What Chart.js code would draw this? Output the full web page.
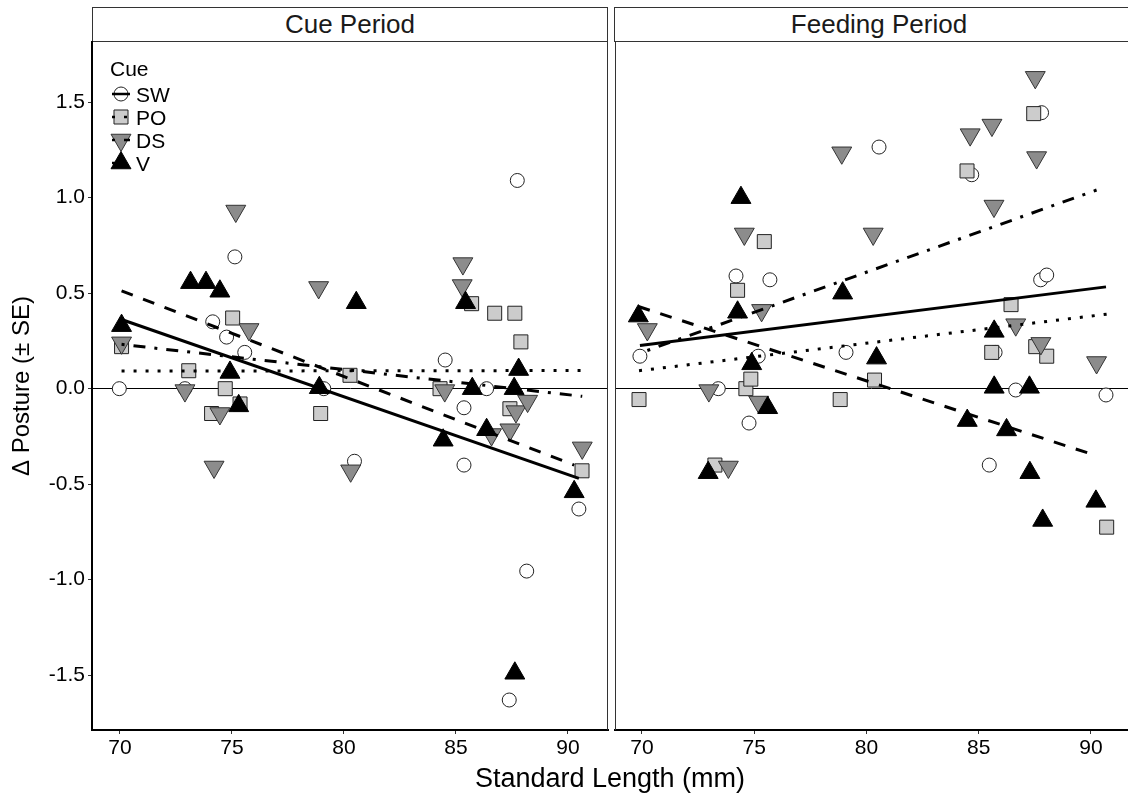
<!DOCTYPE html>
<html>
<head>
<meta charset="utf-8">
<script src="https://cdn.jsdelivr.net/npm/chart.js@4.4.1/dist/chart.umd.min.js"></script>
<style>
  body { margin: 0; background: #fff; width: 1128px; height: 796px; overflow: hidden; position: relative;
         font-family: "Liberation Sans", Arial, sans-serif; }
  .strip { position: absolute; top: 7px; height: 35px; box-sizing: border-box; border: 1px solid #333;
           background: #fff; display: flex; align-items: center; justify-content: center;
           font-size: 26px; color: #1a1a1a; }
  .panel { position: absolute; top: 0; }
  #xtitle { position: absolute; left: 410px; width: 400px; top: 765px; line-height: 27px;
            text-align: center; font-size: 27px; color: #000; }
</style>
</head>
<body>
<div class="strip" style="left:92px; width:516px;">Cue Period</div>
<div class="strip" style="left:614px; width:530px;">Feeding Period</div>
<canvas id="cue" class="panel" style="left:0px;" width="609" height="796"></canvas>
<canvas id="feed" class="panel" style="left:614px;" width="514" height="796"></canvas>
<div id="xtitle">Standard Length (mm)</div>
<script>
const cues = ["SW", "PO", "DS", "V"];
const xTicks = [70, 75, 80, 85, 90];
const yTicks = [-1.5, -1.0, -0.5, 0.0, 0.5, 1.0, 1.5];

// Cue period: [standard length, change in posture]
const cueSW = [[69.97,0.00],[72.9,0.00],[74.14,0.35],[74.76,0.27],[75.13,0.69],[75.57,0.19],[79.1,0.00],[80.47,-0.38],
  [84.52,0.15],[85.36,-0.10],[85.36,-0.40],[86.37,0.00],[87.74,1.09],[88.16,-0.955],[87.38,-1.63],[90.49,-0.63]];
const cuePO = [[70.07,0.22],[73.07,0.094],[74.09,-0.13],[74.7,0.00],[75.03,0.37],[75.36,-0.08],[78.96,-0.13],[80.27,0.07],
  [84.29,0.00],[85.7,0.445],[86.73,0.395],[87.63,0.395],[87.9,0.245],[87.41,-0.105],[90.63,-0.43]];
const cueDS = [[70.07,0.24],[72.9,-0.01],[74.2,-0.41],[74.46,-0.13],[75.17,0.93],[75.76,0.31],[78.87,0.53],[80.3,-0.43],
  [84.5,-0.01],[85.31,0.655],[85.28,0.54],[86.59,-0.24],[87.41,-0.215],[87.68,-0.12],[88.2,-0.065],[90.64,-0.31]];
const cueV = [[70.07,0.33],[73.15,0.555],[73.84,0.555],[74.46,0.51],[74.91,0.085],[75.3,-0.09],[78.9,0.005],[80.55,0.45],
  [84.43,-0.27],[85.43,0.45],[85.73,0.00],[86.37,-0.215],[87.6,0.00],[87.8,0.10],[87.63,-1.49],[90.28,-0.54]];

// Feeding period
const feedSW = [[69.91,0.17],[73.4,0.00],[74.19,0.59],[74.77,-0.18],[75.18,0.17],[75.7,0.57],[79.09,0.19],[80.56,1.265],
  [84.69,1.12],[85.47,-0.40],[85.73,0.19],[86.65,-0.007],[87.76,0.57],[88.03,0.595],[87.8,1.445],[90.67,-0.033]];
const feedPO = [[69.87,-0.057],[73.25,-0.40],[74.26,0.515],[74.63,0.00],[74.85,0.05],[75.45,0.77],[78.83,-0.057],[80.36,0.045],
  [84.48,1.14],[85.58,0.19],[86.44,0.44],[87.45,1.44],[87.54,0.22],[88.03,0.17],[90.7,-0.725]];
const feedDS = [[70.24,0.31],[72.98,-0.01],[73.85,-0.41],[74.56,0.81],[75.33,0.41],[75.2,-0.07],[78.9,1.235],[80.3,0.81],
  [84.62,1.33],[85.59,1.38],[85.68,0.956],[86.65,0.335],[87.52,1.63],[87.58,1.21],[87.77,0.237],[90.25,0.137]];
const feedV = [[69.84,0.38],[72.95,-0.44],[74.41,1.00],[74.26,0.40],[74.89,0.13],[75.6,-0.10],[78.94,0.50],[80.45,0.16],
  [84.49,-0.167],[85.69,0.30],[85.69,0.007],[86.24,-0.216],[87.26,0.007],[87.28,-0.44],[87.85,-0.69],[90.22,-0.59]];

// fitted lines (end points)
const cueFitSW = [[69.97,0.366],[90.49,-0.47]];
const cueFitPO = [[70.07,0.092],[90.63,0.095]];
const cueFitDS = [[70.07,0.232],[90.64,-0.04]];
const cueFitV = [[70.07,0.512],[90.28,-0.40]];
const feedFitSW = [[69.91,0.226],[90.67,0.533]];
const feedFitPO = [[69.87,0.094],[90.7,0.39]];
const feedFitDS = [[70.24,0.20],[90.25,1.04]];
const feedFitV = [[69.84,0.43],[90.22,-0.35]];

const FONT = '"Liberation Sans", Arial, sans-serif';

const markStyle = {
  SW: { pointStyle: "circle", radius: 7, fill: "#ffffff", stroke: "#222222", rotation: 0 },
  PO: { pointStyle: "rect", radius: 9.9, fill: "#cccccc", stroke: "#222222", rotation: 0 },
  DS: { pointStyle: "triangle", radius: 11.5, fill: "#8c8c8c", stroke: "#333333", rotation: 180 },
  V:  { pointStyle: "triangle", radius: 11.5, fill: "#000000", stroke: "#000000", rotation: 0 }
};
const lineDash = { SW: [], PO: [3, 9], DS: [3, 9, 12, 9], V: [12, 11] };

const toXY = (arr) => arr.map((p) => ({ x: p[0], y: p[1] }));

function buildDatasets(points, fits) {
  const out = [];
  cues.forEach((g, i) => {
    const m = markStyle[g];
    out.push({
      label: g,
      data: toXY(points[g]),
      pointStyle: m.pointStyle,
      pointRadius: m.radius,
      pointHoverRadius: m.radius,
      pointRotation: m.rotation,
      pointBackgroundColor: m.fill,
      pointBorderColor: m.stroke,
      pointBorderWidth: 1,
      showLine: false,
      order: 4 - i
    });
    out.push({
      label: g + " fit",
      data: toXY(fits[g]),
      showLine: true,
      pointRadius: 0,
      pointHoverRadius: 0,
      borderColor: "#000",
      borderWidth: 3,
      borderDash: lineDash[g],
      borderCapStyle: "butt",
      fill: false,
      order: -1
    });
  });
  return out;
}

// thin panel border on the side without an axis line
const framePlugin = {
  id: "frame",
  afterDatasetsDraw(chart, args, opts) {
    const { ctx, chartArea: a } = chart;
    ctx.save();
    ctx.strokeStyle = "#333";
    ctx.lineWidth = 1;
    ctx.beginPath();
    if (opts.side === "right") {
      ctx.moveTo(a.right - 0.5, a.top);
      ctx.lineTo(a.right - 0.5, a.bottom);
    } else {
      ctx.moveTo(a.left + 0.5, a.top);
      ctx.lineTo(a.left + 0.5, a.bottom);
    }
    ctx.stroke();
    ctx.restore();
  }
};

function drawKeyMark(ctx, g, cx, cy) {
  const m = markStyle[g];
  ctx.beginPath();
  if (m.pointStyle === "circle") {
    ctx.arc(cx, cy, m.radius, 0, Math.PI * 2);
  } else if (m.pointStyle === "rect") {
    const s = Math.SQRT1_2 * m.radius;
    ctx.rect(cx - s, cy - s, 2 * s, 2 * s);
  } else {
    let rad = m.rotation * Math.PI / 180;
    for (let k = 0; k < 3; k++) {
      const px = cx + Math.sin(rad) * m.radius, py = cy - Math.cos(rad) * m.radius;
      if (k === 0) ctx.moveTo(px, py); else ctx.lineTo(px, py);
      rad += 2 * Math.PI / 3;
    }
    ctx.closePath();
  }
  ctx.fillStyle = m.fill;
  ctx.fill();
  ctx.strokeStyle = m.stroke;
  ctx.lineWidth = 1;
  ctx.setLineDash([]);
  ctx.stroke();
}

const legendPlugin = {
  id: "cueLegend",
  afterDraw(chart) {
    const ctx = chart.ctx;
    ctx.save();
    ctx.fillStyle = "#000";
    ctx.font = "21px " + FONT;
    ctx.textBaseline = "alphabetic";
    ctx.fillText("Cue", 110, 76);
    const rows = [94, 117, 140, 163];
    cues.forEach((g, i) => drawKeyMark(ctx, g, 121, rows[i]));
    cues.forEach((g, i) => {
      ctx.beginPath();
      ctx.setLineDash(lineDash[g]);
      ctx.lineCap = "butt";
      ctx.strokeStyle = "#000";
      ctx.lineWidth = 2.5;
      ctx.moveTo(112, rows[i]);
      ctx.lineTo(130, rows[i]);
      ctx.stroke();
    });
    ctx.setLineDash([]);
    ctx.fillStyle = "#000";
    cues.forEach((g, i) => ctx.fillText(g, 136, rows[i] + 7.5));
    ctx.restore();
  }
};

function makePanel(id, points, fits, isLeft) {
  const xRange = isLeft ? [68.75, 91.79] : [68.8, 91.65];
  return new Chart(document.getElementById(id), {
    type: "scatter",
    data: { datasets: buildDatasets(points, fits) },
    options: {
      responsive: false,
      animation: false,
      events: [],
      layout: {
        autoPadding: false,
        padding: { top: 42, right: isLeft ? 1 : 0, bottom: 0, left: isLeft ? 0 : 1 }
      },
      plugins: {
        legend: { display: false },
        tooltip: { enabled: false },
        frame: { side: isLeft ? "right" : "left" }
      },
      scales: {
        x: {
          type: "linear",
          min: xRange[0],
          max: xRange[1],
          afterBuildTicks: (s) => { s.ticks = xTicks.map((v) => ({ value: v })); },
          afterFit: (s) => { s.height = 66; },
          ticks: { color: "#000", font: { family: FONT, size: 21 }, padding: 2, callback: (v) => String(v) },
          grid: { drawOnChartArea: false, drawTicks: true, tickLength: 4, tickColor: "#333", tickWidth: 1 },
          border: { display: true, color: "#000", width: 2 }
        },
        y: {
          type: "linear",
          min: -1.787,
          max: 1.815,
          afterBuildTicks: (s) => { s.ticks = yTicks.map((v) => ({ value: v })); },
          afterFit: (s) => { s.width = isLeft ? 92 : 0; },
          ticks: {
            display: isLeft,
            color: "#000",
            font: { family: FONT, size: 21 },
            padding: 3,
            callback: (v) => Number(v).toFixed(1)
          },
          grid: {
            drawOnChartArea: true,
            drawTicks: isLeft,
            tickLength: 4,
            tickColor: "#333",
            tickWidth: 1,
            lineWidth: 1,
            color: (c) => (c.tick && c.tick.value === 0 ? "#000" : "rgba(0,0,0,0)")
          },
          border: { display: isLeft, color: "#000", width: 2 },
          title: {
            display: isLeft,
            text: "Δ Posture (± SE)",
            color: "#000",
            font: { family: FONT, size: 24 },
            padding: { top: 8, bottom: 0 }
          }
        }
      }
    },
    plugins: isLeft ? [framePlugin, legendPlugin] : [framePlugin]
  });
}

makePanel("cue", { SW: cueSW, PO: cuePO, DS: cueDS, V: cueV },
  { SW: cueFitSW, PO: cueFitPO, DS: cueFitDS, V: cueFitV }, true);
makePanel("feed", { SW: feedSW, PO: feedPO, DS: feedDS, V: feedV },
  { SW: feedFitSW, PO: feedFitPO, DS: feedFitDS, V: feedFitV }, false);
</script>
</body>
</html>
